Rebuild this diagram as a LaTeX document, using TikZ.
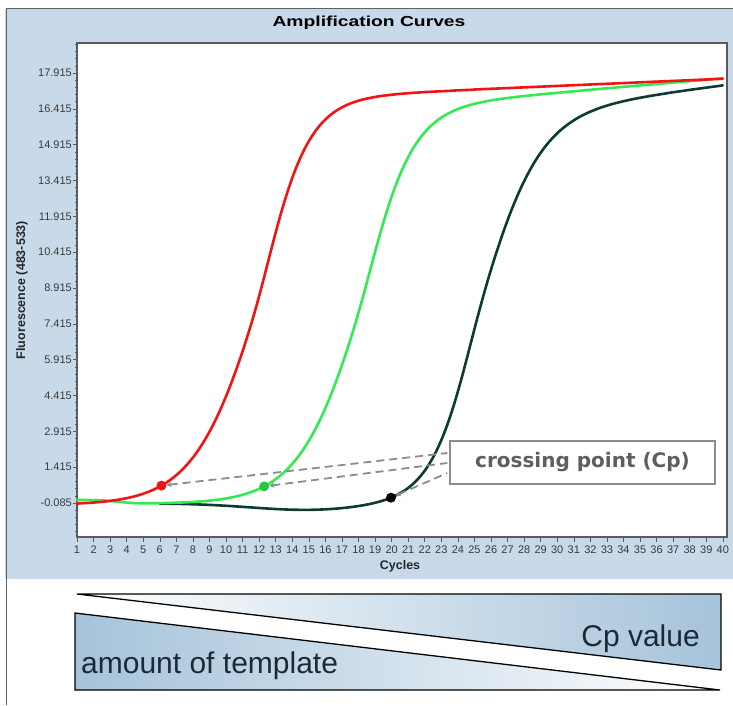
\documentclass[tikz,border=0pt]{standalone}
\usepackage{fontspec}
\usepackage{graphicx}
\setmainfont{Liberation Sans}
\newfontfamily\djv{DejaVu Sans}
\usetikzlibrary{arrows.meta}

\definecolor{panel}{HTML}{C8DAEA}
\definecolor{tri}{HTML}{A6C3DA}
\definecolor{cred}{HTML}{F21414}
\definecolor{cgreen}{HTML}{33EA50}
\definecolor{cdark}{HTML}{0D3A33}
\definecolor{dashg}{HTML}{8C8C8C}
\definecolor{ticktext}{HTML}{3A3A3A}
\definecolor{cptext}{HTML}{5E5E5E}
\definecolor{txtc}{HTML}{1C2A38}
\definecolor{plotborder}{HTML}{5A5A5A}

\tikzset{
  curve/.style={line width=2.6pt, line join=round, line cap=round},
  marker/.style={circle, inner sep=0pt, minimum size=10pt},
  cpdash/.style={dashg, line width=1.8pt, dash pattern=on 8pt off 5pt, {Stealth[length=5pt,width=5.5pt]}-},
  tickline/.style={plotborder, line width=0.6pt},
  ticklab/.style={text=ticktext, font=\fontsize{11}{13}\selectfont, inner sep=0pt},
}

\begin{document}
\begin{tikzpicture}[x=1pt,y=-1pt,
  declare function={
    sg(\t)=\t/sqrt(1+\t*\t);
    lg(\t)=1/(1+exp(-max(-9,min(9,\t))));
    px(\c)=77+(\c-1)*16.56;
    py(\v)=503-(\v+0.085)*23.89;
    fr(\c)=-0.17+17.0*lg((\c-11.9)/(1.7-0.25*sg((\c-11.9)/1.5)))+0.03*(\c-11.9)*lg((\c-11.9)/1.5);
    fg(\c)=-0.12+0.16*lg((3.5-\c)/0.5)+16.5*lg((\c-18.1)/(1.7-0.2*sg((\c-18.1)/1.5)))+0.06*(\c-18.1)*lg((\c-18.1)/1.5);
    fd(\c)=-0.1-0.28*exp(-((\c-15)/5)*((\c-15)/5))+16.18*lg((\c-25.3)/(1.6+0.2*sg((\c-25.3)/1.5)))+0.09*(\c-25.3)*lg((\c-25.3)/1.5);
  }]
\useasboundingbox (0,0) rectangle (733,705);

% panel
\fill[panel] (5,8.5) rectangle (733,579);
\draw[gray!75!black, line width=1pt] (6,705) -- (6,8.5) -- (733,8.5);

% title
\node[font=\bfseries\fontsize{14.5}{17}\selectfont] (title) at (369,23) {\scalebox{1.33}[1]{Amplification Curves}};

% plot area
\draw[fill=white, draw=plotborder, line width=1.2pt] (77,43) rectangle (727,537);

% y ticks
\foreach \k in {-4,...,64} {\draw[tickline] (75,{503-7.167*\k}) -- (77,{503-7.167*\k});}
\foreach \lab [count=\i from 0] in {-0.085,1.415,2.915,4.415,5.915,7.415,8.915,10.415,11.915,13.415,14.915,16.415,17.915} {
  \draw[tickline] (72.5,{503-35.835*\i}) -- (77,{503-35.835*\i});
  \node[ticklab, anchor=east] (yl\i) at (72,{503-35.835*\i}) {\lab};
}
% x ticks
\foreach \c in {1,...,40} {
  \draw[tickline] ({px(\c)},537) -- ({px(\c)},541.5);
  \node[ticklab] (xl\c) at ({px(\c)},550) {\c};
}
\node[font=\bfseries\fontsize{12.5}{15}\selectfont, text=black!85] (cyc) at (400,566) {Cycles};
\node[rotate=90, font=\bfseries\fontsize{12.5}{15}\selectfont, text=black!85] (ylab) at (22,290) {Fluorescence (483-533)};

% curves
\draw[curve, cdark] plot[domain=6:40, samples=150, smooth] ({px(\x)},{py(fd(\x))});
\draw[curve, cgreen] plot[domain=1:40, samples=160, smooth] ({px(\x)},{py(fg(\x))});
\draw[curve, cred] plot[domain=1:40, samples=160, smooth] ({px(\x)},{py(fr(\x))});

% markers
\node[marker, fill=cred] (mr) at ({px(6.1)},{py(fr(6.1))}) {};
\node[marker, fill=cgreen!85!black] (mg) at ({px(12.3)},{py(fg(12.3))}) {};
\node[marker, fill=black] (md) at ({px(19.96)},{py(fd(19.96))}) {};

% label box
\node[draw=dashg, line width=1.5pt, fill=white, minimum width=265pt, minimum height=43pt,
      font=\djv\bfseries\fontsize{20}{24}\selectfont, text=cptext] (cpbox) at (582.5,462.5) {crossing point (Cp)};
\coordinate (e1) at ([xshift=-2pt,yshift=9.5pt]cpbox.west);
\coordinate (e2) at ([xshift=-2pt,yshift=-0.5pt]cpbox.west);
\coordinate (e3) at ([xshift=-2pt,yshift=-10.5pt]cpbox.west);
\draw[cpdash] (mr) -- (e1);
\draw[cpdash] (mg) -- (e2);
\draw[cpdash] (md) -- (e3);

% bottom wedges
\shade[left color=white, middle color=white!45!tri, right color=tri, draw=black, line width=1.3pt]
  (77,594) -- (721,594) -- (721,670) -- cycle;
\shade[left color=tri, middle color=white!45!tri, right color=white, draw=black, line width=1.3pt]
  (75,613) -- (720,690) -- (75,690) -- cycle;
\node[anchor=base east, font=\fontsize{30}{36}\selectfont, text=txtc, inner sep=0pt] (cpv) at (700,646) {Cp value};
\node[anchor=base west, font=\fontsize{30}{36}\selectfont, text=txtc, inner sep=0pt] (amt) at (81,673) {amount of template};
\end{tikzpicture}
\end{document}
